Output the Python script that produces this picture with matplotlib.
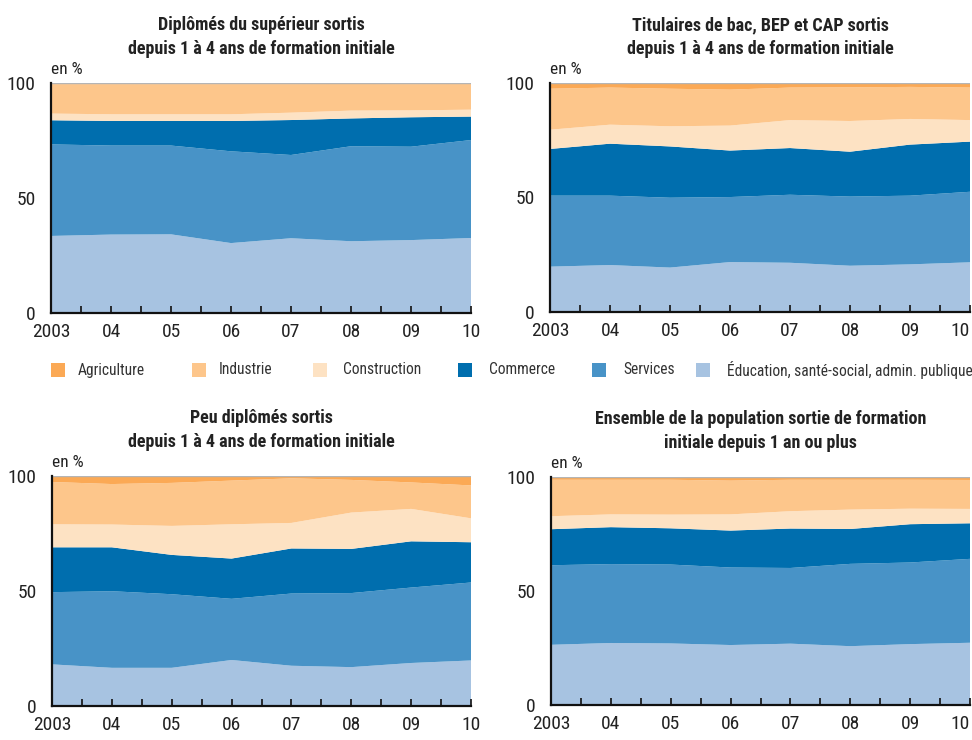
import matplotlib
matplotlib.use('Agg')
import matplotlib.pyplot as plt
from matplotlib import font_manager
from matplotlib.patches import Rectangle

# pick a narrow sans if one is there, else Liberation Sans
installed = {f.name for f in font_manager.fontManager.ttflist}
narrow = [n for n in ['Liberation Sans Narrow', 'DejaVu Sans Condensed',
                      'Roboto Condensed', 'Open Sans Condensed']
          if n in installed]
base = narrow[0] if narrow else 'Liberation Sans'
plt.rcParams['font.family'] = [base, 'DejaVu Sans']
shrink = 1.0 if narrow else 0.86

years = [2003, 2004, 2005, 2006, 2007, 2008, 2009, 2010]
year_labels = ['2003', '04', '05', '06', '07', '08', '09', '10']

sectors = ['Agriculture', 'Industrie', 'Construction', 'Commerce', 'Services',
           'Éducation, santé-social, admin. publique']
colors = ['#FBA955', '#FDC68B', '#FDE2C3', '#006EAE', '#4893C7', '#A7C3E1']

# parts en %, un tableau par secteur (Agriculture ... Education)
# diplômés du supérieur
sup_agri = [0.6, 0.6, 0.5, 0.5, 0.5, 0.4, 0.5, 0.4]
sup_indu = [12.7, 13.0, 13.1, 13.1, 12.4, 11.6, 11.4, 11.2]
sup_cons = [2.9, 2.9, 2.9, 2.9, 3.2, 3.4, 3.0, 3.0]
sup_comm = [10.5, 10.7, 10.7, 13.2, 15.2, 12.1, 12.8, 10.2]
sup_serv = [39.8, 38.7, 38.6, 39.9, 36.2, 41.3, 40.6, 42.6]
sup_educ = [33.5, 34.1, 34.2, 30.4, 32.5, 31.2, 31.7, 32.6]

# titulaires de bac, BEP et CAP
bac_agri = [2.5, 2.0, 2.5, 2.9, 2.0, 1.9, 1.7, 2.0]
bac_indu = [17.9, 16.2, 16.4, 15.7, 14.2, 14.7, 14.0, 14.2]
bac_cons = [8.4, 8.3, 8.8, 10.9, 12.2, 13.4, 11.2, 9.4]
bac_comm = [20.4, 22.7, 22.4, 20.3, 20.4, 19.6, 22.3, 21.9]
bac_serv = [31.0, 30.3, 30.5, 28.4, 29.7, 30.2, 30.0, 30.8]
bac_educ = [19.8, 20.5, 19.4, 21.8, 21.5, 20.2, 20.8, 21.7]

# peu diplômés
peu_agri = [2.6, 3.5, 3.0, 2.0, 1.0, 1.7, 2.8, 4.1]
peu_indu = [18.4, 17.6, 18.7, 19.0, 19.4, 14.2, 11.5, 14.3]
peu_cons = [10.0, 9.9, 12.6, 14.9, 11.1, 15.8, 14.1, 10.4]
peu_comm = [19.5, 19.1, 17.1, 17.5, 19.6, 19.2, 20.1, 17.5]
peu_serv = [31.4, 33.3, 32.0, 26.6, 31.4, 32.2, 32.8, 33.9]
peu_educ = [18.1, 16.6, 16.6, 20.0, 17.5, 16.9, 18.7, 19.8]

# ensemble
ens_agri = [1.2, 1.2, 1.2, 1.6, 1.2, 1.2, 1.2, 1.3]
ens_indu = [16.0, 15.2, 15.3, 14.8, 13.8, 13.1, 12.7, 12.7]
ens_cons = [5.7, 5.6, 6.0, 7.1, 7.6, 8.5, 6.8, 6.3]
ens_comm = [15.8, 16.2, 15.9, 16.2, 17.3, 15.3, 16.8, 15.6]
ens_serv = [34.9, 34.6, 34.6, 34.0, 33.2, 36.1, 35.8, 36.8]
ens_educ = [26.4, 27.2, 27.0, 26.3, 26.9, 25.8, 26.7, 27.3]

titles = ['Diplômés du supérieur sortis\ndepuis 1 à 4 ans de formation initiale',
          'Titulaires de bac, BEP et CAP sortis\ndepuis 1 à 4 ans de formation initiale',
          'Peu diplômés sortis\ndepuis 1 à 4 ans de formation initiale',
          'Ensemble de la population sortie de formation\ninitiale depuis 1 an ou plus']

panels = [
    [sup_agri, sup_indu, sup_cons, sup_comm, sup_serv, sup_educ],
    [bac_agri, bac_indu, bac_cons, bac_comm, bac_serv, bac_educ],
    [peu_agri, peu_indu, peu_cons, peu_comm, peu_serv, peu_educ],
    [ens_agri, ens_indu, ens_cons, ens_comm, ens_serv, ens_educ],
]

W, H = 972, 740
fig = plt.figure(figsize=(W / 100, H / 100), dpi=100)

# axes boxes in pixels: left, top, right, bottom
boxes = [(51, 83, 471, 313), (550, 83, 970, 312),
         (52, 476, 471, 706), (551, 477, 970, 705)]

txt = '#222222'
for i, (box, series, title) in enumerate(zip(boxes, panels, titles)):
    l, t, r, b = box
    ax = fig.add_axes([l / W, 1 - b / H, (r - l) / W, (b - t) / H])
    # stack from bottom: education first
    ax.stackplot(years, series[::-1], colors=colors[::-1], linewidth=0)
    ax.set_xlim(2003, 2010)
    ax.set_ylim(0, 100)
    ax.axhline(100, color='#B5B5B5', lw=1)
    for s in ['top', 'right']:
        ax.spines[s].set_visible(False)
    for s in ['left', 'bottom']:
        ax.spines[s].set_linewidth(1.6)
        ax.spines[s].set_color('#111111')
        ax.spines[s].set_zorder(5)
    ax.set_xticks(years)
    ax.set_xticklabels(year_labels)
    if i % 2 == 1:
        ax.get_xticklabels()[-1].set_ha('right')
    ax.set_xticks([y + 0.5 for y in years[:-1]], minor=True)
    ax.tick_params(axis='x', which='both', direction='in', length=5, width=1.2,
                   color='#111111', labelsize=14 * shrink, labelcolor=txt, pad=7)
    ax.set_yticks([0, 50, 100])
    ax.tick_params(axis='y', length=0, labelsize=14 * shrink, labelcolor=txt,
                   pad=11)
    ax.annotate(title, xy=(0.5, 1), xycoords='axes fraction', xytext=(0, 29),
                textcoords='offset pixels', ha='center', va='baseline',
                fontsize=13 * shrink, fontweight='bold', color=txt,
                linespacing=1.4 / shrink)
    ax.annotate('en %', xy=(0, 1), xycoords='axes fraction', xytext=(0, 9),
                textcoords='offset pixels', ha='left', va='baseline',
                fontsize=12.5 * shrink, color=txt)

# legend row
sq_x = [51, 192, 313, 458, 592, 696]
tx_x = [78, 219, 343, 489, 623, 727]
ly = 370
for name, col, sx, tx in zip(sectors, colors, sq_x, tx_x):
    fig.patches.append(Rectangle((sx / W, 1 - (ly + 7) / H), 14 / W, 14 / H,
                                 transform=fig.transFigure, facecolor=col,
                                 edgecolor='none'))
    fig.text(tx / W, 1 - ly / H, name, ha='left', va='center',
             fontsize=11.2 * shrink, color='#333333')

fig.savefig('out.png', dpi=100)
